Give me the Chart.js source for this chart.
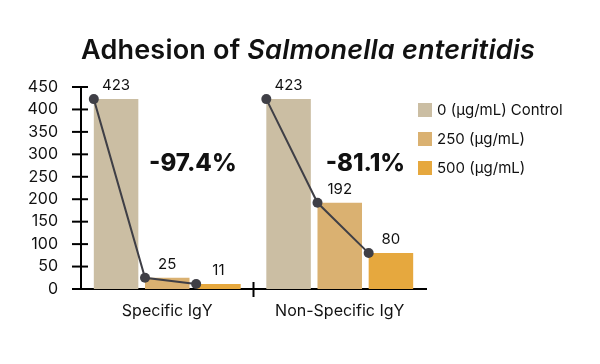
<!DOCTYPE html>
<html>
<head>
<meta charset="utf-8">
<script src="https://cdn.jsdelivr.net/npm/chart.js@4"></script>
<style>
  body { margin: 0; background: #fff; }
  .wrap { position: relative; width: 600px; height: 364px; font-family: Inter, sans-serif; color: #111; }
  .title { position: absolute; left: 0; width: 616px; top: 33px; text-align: center; font-size: 27px; font-weight: 600; letter-spacing: 0.2px; }
  .legend { position: absolute; left: 418px; top: 95px; font-size: 15px; }
  .legend-item { display: flex; align-items: center; height: 29px; }
  .legend-swatch { width: 14px; height: 14px; margin-right: 5px; }
</style>
</head>
<body>
<div class="wrap">
  <div class="title">Adhesion of <i>Salmonella enteritidis</i></div>
  <canvas id="chart-adhesion" width="600" height="364"></canvas>
  <div class="legend" id="legend"></div>
</div>
<script>
const categories = ["Specific IgY", "Non-Specific IgY"];
const seriesNames = ["0 (\u00b5g/mL) Control", "250 (\u00b5g/mL)", "500 (\u00b5g/mL)"];
const control = [423, 423];
const dose250 = [25, 192];
const dose500 = [11, 80];
const reductions = ["-97.4%", "-81.1%"];
const yTicks = [0, 50, 100, 150, 200, 250, 300, 350, 400, 450];

const colors = ["#cbbea3", "#dab171", "#e6a83e"];
const lineColor = "#3f3f46";
const font = "Inter, sans-serif";

document.getElementById("legend").innerHTML = seriesNames
  .map((n, i) => `<div class="legend-item"><span class="legend-swatch" style="background:${colors[i]}"></span>${n}</div>`)
  .join("");

// connects the top-left corners of the bars in each group, adds value labels and the reduction text
const overlay = {
  id: "overlay",
  afterDatasetsDraw(chart) {
    const { ctx, chartArea, scales } = chart;
    const metas = [0, 1, 2].map((i) => chart.getDatasetMeta(i));
    ctx.save();
    categories.forEach((c, g) => {
      const bars = metas.map((m) => m.data[g]);
      ctx.strokeStyle = lineColor;
      ctx.lineWidth = 2;
      ctx.beginPath();
      bars.forEach((b, i) => {
        const x = b.x - b.width / 2;
        if (i === 0) ctx.moveTo(x, b.y); else ctx.lineTo(x, b.y);
      });
      ctx.stroke();
      ctx.fillStyle = lineColor;
      bars.forEach((b) => {
        ctx.beginPath();
        ctx.arc(b.x - b.width / 2, b.y, 5, 0, Math.PI * 2);
        ctx.fill();
      });
      ctx.fillStyle = "#111";
      ctx.font = "15px " + font;
      ctx.textAlign = "center";
      ctx.textBaseline = "bottom";
      bars.forEach((b, i) => {
        ctx.fillText(chart.data.datasets[i].data[g], b.x, b.y - 6);
      });
      ctx.font = "800 24px " + font;
      ctx.textBaseline = "middle";
      ctx.fillText(reductions[g], (bars[1].x + bars[2].x) / 2, scales.y.getPixelForValue(278));
    });
    // crossing tick marks on both axes
    ctx.strokeStyle = "#000";
    ctx.lineWidth = 2;
    yTicks.forEach((v) => {
      const y = scales.y.getPixelForValue(v);
      ctx.beginPath();
      ctx.moveTo(chartArea.left - 9, y);
      ctx.lineTo(chartArea.left + 7, y);
      ctx.stroke();
    });
    for (let g = 1; g < categories.length; g++) {
      const x = (scales.x.getPixelForValue(g - 1) + scales.x.getPixelForValue(g)) / 2;
      ctx.beginPath();
      ctx.moveTo(x, chartArea.bottom - 7);
      ctx.lineTo(x, chartArea.bottom + 8);
      ctx.stroke();
    }
    ctx.restore();
  },
};

new Chart(document.getElementById("chart-adhesion"), {
  type: "bar",
  data: {
    labels: categories,
    datasets: [
      { label: seriesNames[0], data: control, backgroundColor: colors[0] },
      { label: seriesNames[1], data: dose250, backgroundColor: colors[1] },
      { label: seriesNames[2], data: dose500, backgroundColor: colors[2] },
    ],
  },
  options: {
    responsive: false,
    animation: false,
    layout: { padding: { left: 0, right: 174, top: 87, bottom: 0 } },
    datasets: { bar: { barPercentage: 0.87, categoryPercentage: 0.89 } },
    scales: {
      x: {
        grid: { display: false },
        border: { color: "#000", width: 2 },
        ticks: { color: "#111", font: { family: font, size: 16 }, padding: 5 },
        afterFit: (s) => { s.height = 75; },
      },
      y: {
        min: 0,
        max: 450,
        grid: { display: false },
        border: { color: "#000", width: 2 },
        afterBuildTicks: (s) => { s.ticks = yTicks.map((v) => ({ value: v })); },
        ticks: { color: "#111", font: { family: font, size: 16 }, padding: 15 },
        afterFit: (s) => { s.width = 81; },
      },
    },
    plugins: { legend: { display: false }, tooltip: { enabled: false } },
  },
  plugins: [overlay],
});
</script>
</body>
</html>
